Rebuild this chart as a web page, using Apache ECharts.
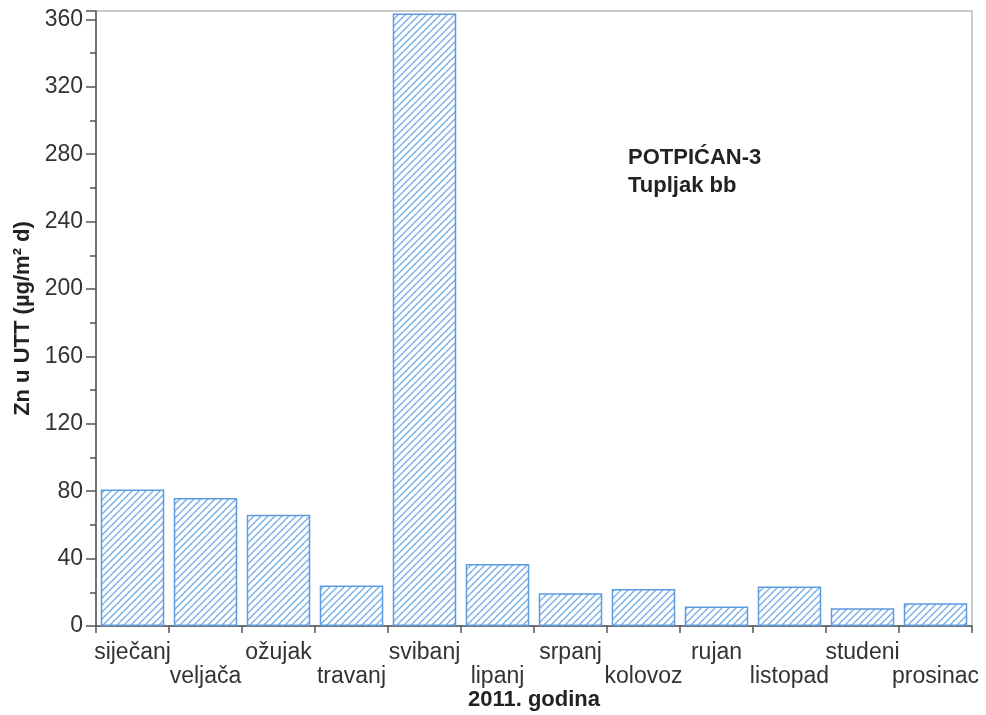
<!DOCTYPE html>
<html>
<head>
<meta charset="utf-8">
<script src="https://cdn.jsdelivr.net/npm/echarts@6/dist/echarts.min.js"></script>
<style>html,body{margin:0;padding:0;background:#fff;}#c{width:986px;height:715px;}</style>
</head>
<body>
<div id="c"></div>
<script>
const months = ['siječanj','veljača','ožujak','travanj','svibanj','lipanj','srpanj','kolovoz','rujan','listopad','studeni','prosinac'];
const znValues = [81, 76, 66, 24, 363.5, 36.8, 19.5, 22, 11.5, 23.5, 10.5, 13.5];
const yTickLabels = [0, 40, 80, 120, 160, 200, 240, 280, 320, 360];
const yAxisTitle = 'Zn u UTT (µg/m² d)';
const xAxisTitle = '2011. godina';
const stationLines = ['POTPIĆAN-3', 'Tupljak bb'];

function hatch() {
  const s = 7;
  const c = document.createElement('canvas');
  c.width = s; c.height = s;
  const g = c.getContext('2d');
  g.fillStyle = '#ffffff';
  g.fillRect(0, 0, s, s);
  g.strokeStyle = '#78aee8';
  g.lineWidth = 1.4;
  g.beginPath();
  g.moveTo(-1, s + 1); g.lineTo(s + 1, -1);
  g.moveTo(-1, 1); g.lineTo(1, -1);
  g.moveTo(s - 1, s + 1); g.lineTo(s + 1, s - 1);
  g.stroke();
  return c;
}

const chart = echarts.init(document.getElementById('c'));
const font = 'Liberation Sans, Arial, sans-serif';
chart.setOption({
  animation: false,
  backgroundColor: '#ffffff',
  grid: { left: 96, right: 14, top: 11, bottom: 89, containLabel: false, outerBoundsMode: 'none', show: true, borderColor: '#999', borderWidth: 1, backgroundColor: 'transparent' },
  xAxis: {
    type: 'category',
    data: months,
    boundaryGap: true,
    axisLine: { lineStyle: { color: '#555', width: 1.5 } },
    axisTick: { show: true, length: 7, lineStyle: { color: '#555', width: 1.5 } },
    axisLabel: {
      interval: 0,
      color: '#333',
      fontFamily: font,
      fontSize: 23,
      lineHeight: 24,
      margin: 15,
      formatter: (v, i) => (i % 2 === 1 ? '\n' + v : v)
    },
    name: xAxisTitle,
    nameLocation: 'middle',
    nameGap: 63,
    nameMoveOverlap: false,
    nameTextStyle: { fontFamily: font, fontSize: 22, fontWeight: 'bold', color: '#222' }
  },
  yAxis: {
    type: 'value',
    min: 0,
    max: 365,
    interval: 40,
    splitLine: { show: false },
    axisLine: { show: true, lineStyle: { color: '#555', width: 1.5 } },
    axisTick: { show: true, length: 10, lineStyle: { color: '#555', width: 1.5 } },
    minorTick: { show: true, splitNumber: 2, length: 6, lineStyle: { color: '#555', width: 1.5 } },
    axisLabel: {
      color: '#333',
      fontFamily: font,
      fontSize: 23,
      margin: 13,
      showMaxLabel: false,
      formatter: v => (yTickLabels.indexOf(v) >= 0 ? String(v) : '')
    },
    name: yAxisTitle,
    nameLocation: 'middle',
    nameRotate: 90,
    nameGap: 62,
    nameMoveOverlap: false,
    nameTextStyle: { fontFamily: font, fontSize: 22, fontWeight: 'bold', color: '#222' }
  },
  series: [{
    type: 'bar',
    data: znValues,
    barWidth: '87%',
    itemStyle: {
      color: { image: hatch(), repeat: 'repeat' },
      borderColor: '#5d9be0',
      borderWidth: 1.5
    }
  }],
  graphic: [{
    type: 'text',
    left: 628,
    top: 144,
    style: {
      text: stationLines.join('\n'),
      font: 'bold 22px ' + font,
      fill: '#222',
      lineHeight: 28
    }
  }]
});
</script>
</body>
</html>
